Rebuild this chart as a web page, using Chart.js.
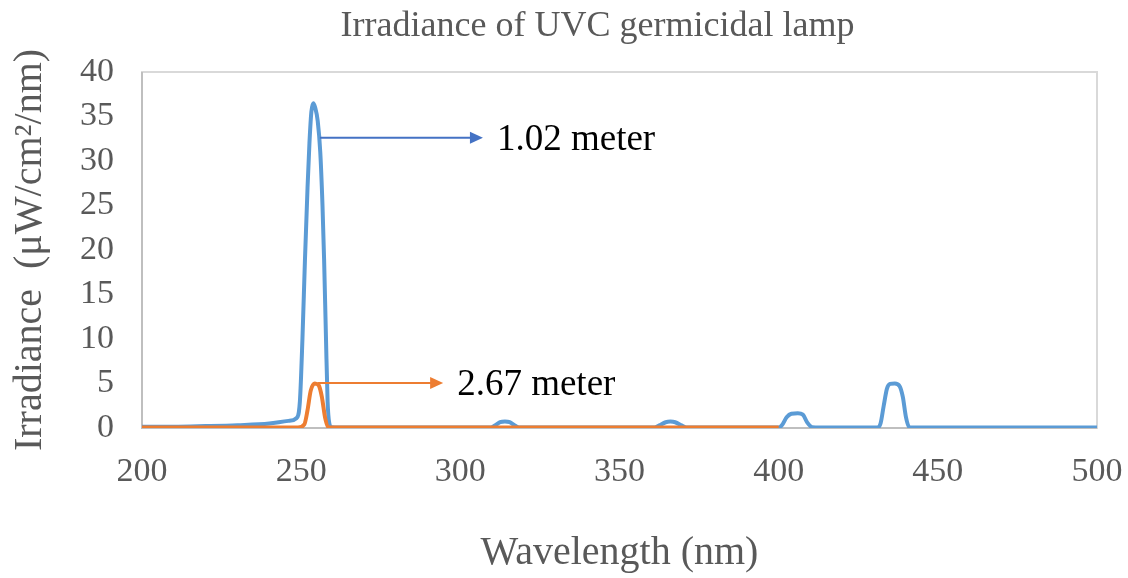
<!DOCTYPE html>
<html>
<head>
<meta charset="utf-8">
<title>Irradiance of UVC germicidal lamp</title>
<script src="https://cdn.jsdelivr.net/npm/chart.js@4.4.1/dist/chart.umd.min.js"></script>
<style>
    html, body { margin: 0; padding: 0; background: #ffffff; }
    #wrap { width: 1128px; height: 578px; }
</style>
</head>
<body>
<div id="wrap"><canvas id="chartCanvas" width="1128" height="578"></canvas></div>
<script>
// Wavelength (nm) / irradiance pairs
const blueWavelength = [200, 210, 220, 230, 240, 246, 248.5, 249.6, 250.4, 251.2, 252, 252.6, 253.2, 253.8, 254.4, 255.2, 256, 256.7, 257.2, 257.8, 258.3, 258.8, 259.5, 262, 270, 300,
    309.5, 311, 312.5, 314, 315.5, 317, 318.5, 361, 362.5, 364.5, 366, 367.5, 369.5, 371, 400,
    401, 402.5, 404, 406, 407.6, 409, 410.5, 413, 431, 432, 433, 434, 435, 436.5, 438, 439, 440, 441, 443, 500];
const blueIrradiance = [0.15, 0.15, 0.22, 0.32, 0.5, 0.8, 1.1, 3, 10, 19, 27, 32, 35.5, 36.5, 36, 34.5, 31, 25, 19, 10, 3, 0.6, 0.1, 0.05, 0.05, 0.05,
    0.05, 0.3, 0.65, 0.72, 0.65, 0.3, 0.05, 0.05, 0.3, 0.65, 0.72, 0.65, 0.3, 0.05, 0.05,
    0.3, 1.2, 1.6, 1.65, 1.5, 0.6, 0.1, 0.05, 0.05, 0.5, 2.5, 4.4, 4.95, 5.0, 4.7, 3.5, 1.2, 0.1, 0.05, 0.05];

const orangeWavelength = [200, 249, 251, 252, 253, 254.3, 255.5, 256.5, 257.5, 258.5, 260, 400];
const orangeIrradiance = [0.05, 0.05, 0.4, 2, 4.2, 5.0, 4.8, 3.5, 1.2, 0.1, 0.05, 0.05];

// Tick values
const xTicks = [200, 250, 300, 350, 400, 450, 500];
const yTicks = [0, 5, 10, 15, 20, 25, 30, 35, 40];

// Arrow call-outs (data units)
const calloutLabels = ['1.02 meter', '2.67 meter'];
const calloutFrom = [255.9, 255.3];
const calloutTo = [307.1, 294.6];
const calloutLevel = [32.6, 5.06];
const calloutColors = ['#4472C4', '#ED7D31'];

const chartTitle = 'Irradiance of UVC germicidal lamp';
const serif = '"Liberation Serif", "Times New Roman", serif';

function toPoints(xs, ys) {
    return xs.map((x, i) => ({ x: x, y: ys[i] }));
}

// Thin frame around the plot area
const plotFrame = {
    id: 'plotFrame',
    beforeDatasetsDraw(chart) {
        const a = chart.chartArea;
        const ctx = chart.ctx;
        ctx.save();
        ctx.strokeStyle = '#d9d9d9';
        ctx.lineWidth = 2;
        ctx.strokeRect(a.left, a.top, a.right - a.left, a.bottom - a.top);
        ctx.strokeStyle = '#bfbfbf';
        ctx.beginPath();
        ctx.moveTo(a.left, a.top);
        ctx.lineTo(a.left, a.bottom);
        ctx.lineTo(a.right, a.bottom);
        ctx.stroke();
        ctx.restore();
    }
};

// Title, sitting a little left of the plot centre like the original
const topTitle = {
    id: 'topTitle',
    afterDraw(chart) {
        const a = chart.chartArea;
        const ctx = chart.ctx;
        ctx.save();
        ctx.fillStyle = '#595959';
        ctx.font = '36px ' + serif;
        ctx.textAlign = 'center';
        ctx.textBaseline = 'middle';
        ctx.fillText(chartTitle, (a.left + a.right) / 2 - 22, a.top - 45);
        ctx.restore();
    }
};

// Arrows with their labels
const callouts = {
    id: 'callouts',
    afterDatasetsDraw(chart) {
        const ctx = chart.ctx;
        const xs = chart.scales.x;
        const ys = chart.scales.y;
        ctx.save();
        calloutLabels.forEach((label, i) => {
            const x0 = xs.getPixelForValue(calloutFrom[i]);
            const x1 = xs.getPixelForValue(calloutTo[i]);
            const y = ys.getPixelForValue(calloutLevel[i]);
            ctx.strokeStyle = calloutColors[i];
            ctx.fillStyle = calloutColors[i];
            ctx.lineWidth = 2;
            ctx.beginPath();
            ctx.moveTo(x0, y);
            ctx.lineTo(x1 - 10, y);
            ctx.stroke();
            ctx.beginPath();
            ctx.moveTo(x1, y);
            ctx.lineTo(x1 - 13, y - 6);
            ctx.lineTo(x1 - 13, y + 6);
            ctx.closePath();
            ctx.fill();
            ctx.fillStyle = '#000000';
            ctx.font = '37px ' + serif;
            ctx.textBaseline = 'middle';
            ctx.textAlign = 'left';
            ctx.fillText(label, x1 + 14, y + 2);
        });
        ctx.restore();
    }
};

window.onload = function() {
    const ctx = document.getElementById('chartCanvas').getContext('2d');

    new Chart(ctx, {
        type: 'line',
        data: {
            datasets: [
                {
                    label: '2.67 meter',
                    data: toPoints(orangeWavelength, orangeIrradiance),
                    borderColor: '#ED7D31',
                    borderWidth: 4,
                    pointRadius: 0,
                    cubicInterpolationMode: 'monotone',
                    order: 0
                },
                {
                    label: '1.02 meter',
                    data: toPoints(blueWavelength, blueIrradiance),
                    borderColor: '#5B9BD5',
                    borderWidth: 4,
                    pointRadius: 0,
                    cubicInterpolationMode: 'monotone',
                    order: 1
                }
            ]
        },
        options: {
            responsive: false,
            animation: false,
            layout: { padding: { left: 0, right: 31, top: 72, bottom: 0 } },
            scales: {
                x: {
                    type: 'linear',
                    min: 200,
                    max: 500,
                    afterBuildTicks: function(scale) {
                        scale.ticks = xTicks.map(v => ({ value: v }));
                    },
                    afterFit: function(scale) {
                        scale.height = 150;
                        scale.paddingLeft = 0;
                        scale.paddingRight = 0;
                    },
                    grid: { display: false, drawTicks: false },
                    border: { display: false },
                    ticks: {
                        color: '#595959',
                        font: { family: serif, size: 34 },
                        padding: 24,
                        maxRotation: 0
                    },
                    title: {
                        display: true,
                        text: 'Wavelength (nm)',
                        color: '#595959',
                        font: { family: serif, size: 40 },
                        padding: { top: 0, bottom: 1 }
                    }
                },
                y: {
                    min: 0,
                    max: 40,
                    afterBuildTicks: function(scale) {
                        scale.ticks = yTicks.map(v => ({ value: v }));
                    },
                    afterFit: function(scale) { scale.width = 142; },
                    grid: { display: false, drawTicks: false },
                    border: { display: false },
                    ticks: {
                        color: '#595959',
                        font: { family: serif, size: 34 },
                        padding: 28
                    },
                    title: {
                        display: true,
                        text: 'Irradiance  (μW/cm²/nm)',
                        color: '#595959',
                        font: { family: serif, size: 40 },
                        padding: { top: 6, bottom: 0 }
                    }
                }
            },
            plugins: {
                legend: { display: false },
                tooltip: { enabled: false },
                title: { display: false }
            }
        },
        plugins: [plotFrame, callouts, topTitle]
    });
};
</script>
</body>
</html>
